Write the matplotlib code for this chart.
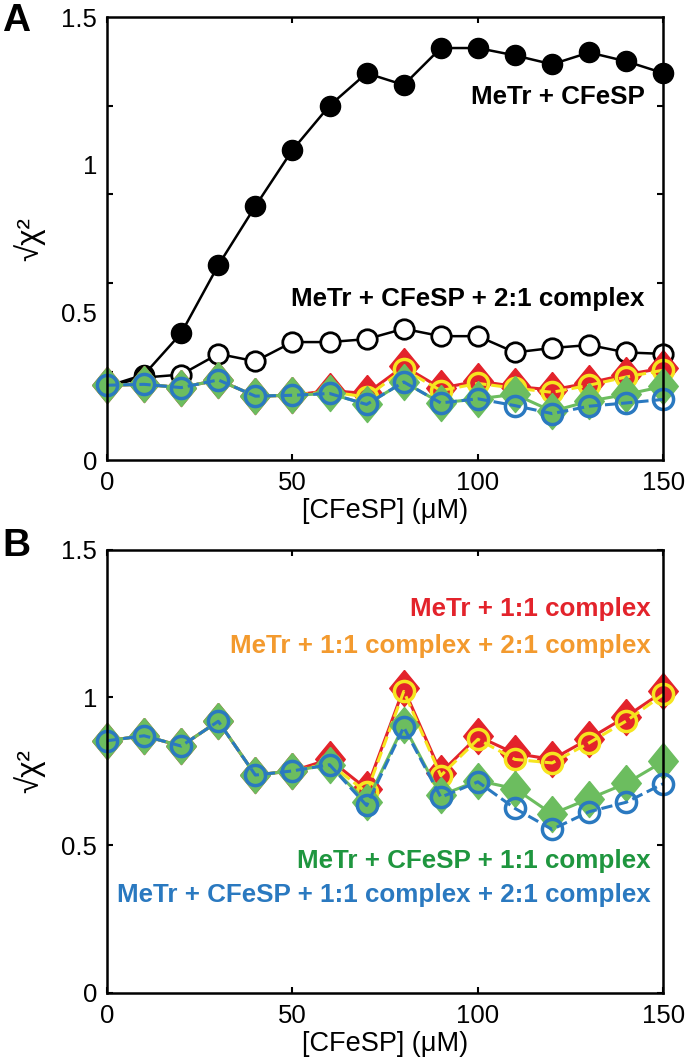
"""Goodness of fit (sqrt chi^2) vs CFeSP concentration for several binding models."""

import matplotlib
matplotlib.use("Agg")
import matplotlib.pyplot as plt

plt.rcParams["font.family"] = ["Liberation Sans", "DejaVu Sans"]

# Titration points (uM)
cfesp = [0, 10, 20, 30, 40, 50, 60, 70, 80, 90, 100, 110, 120, 130, 140, 150]

# Panel A
a_metr_cfesp = [0.25, 0.29, 0.43, 0.66, 0.86, 1.05, 1.20, 1.31, 1.27, 1.395, 1.395, 1.37, 1.34, 1.38, 1.35, 1.31]
a_metr_cfesp_21 = [0.25, 0.28, 0.29, 0.36, 0.335, 0.40, 0.40, 0.41, 0.445, 0.42, 0.42, 0.365, 0.38, 0.39, 0.365, 0.36]
a_metr_11 = [0.254, 0.257, 0.246, 0.272, 0.217, 0.22, 0.236, 0.226, 0.318, 0.244, 0.268, 0.25, 0.238, 0.262, 0.29, 0.312]
a_metr_11_21 = [0.254, 0.257, 0.246, 0.272, 0.217, 0.22, 0.232, 0.214, 0.308, 0.236, 0.26, 0.244, 0.23, 0.254, 0.282, 0.305]
a_metr_cfesp_11 = [0.254, 0.257, 0.246, 0.272, 0.217, 0.22, 0.226, 0.189, 0.265, 0.194, 0.208, 0.223, 0.166, 0.2, 0.223, 0.25]
a_metr_cfesp_11_21 = [0.254, 0.257, 0.246, 0.272, 0.217, 0.22, 0.226, 0.189, 0.265, 0.194, 0.208, 0.185, 0.158, 0.183, 0.194, 0.206]

# Panel B
b_metr_11 = [0.853, 0.87, 0.835, 0.919, 0.737, 0.751, 0.79, 0.69, 1.03, 0.745, 0.868, 0.81, 0.79, 0.86, 0.935, 1.02]
b_metr_11_21 = [0.853, 0.87, 0.835, 0.919, 0.737, 0.751, 0.776, 0.678, 1.02, 0.735, 0.858, 0.79, 0.778, 0.846, 0.92, 1.01]
b_metr_cfesp_11 = [0.853, 0.87, 0.835, 0.919, 0.737, 0.751, 0.772, 0.645, 0.905, 0.668, 0.718, 0.691, 0.605, 0.657, 0.709, 0.783]
b_metr_cfesp_11_21 = [0.853, 0.87, 0.835, 0.919, 0.737, 0.751, 0.772, 0.634, 0.899, 0.662, 0.714, 0.624, 0.553, 0.613, 0.645, 0.708]

RED = "#e3232b"
YELLOW = "#f6e51f"
ORANGE = "#f39a2e"
GREEN = "#6cbd5f"
GREEN_TXT = "#1f963f"
BLUE = "#2a79c0"

TICK_FS = 18.5
LABEL_FS = 18.7

# slightly tall diamond, like the MATLAB 'd' marker
DIAMOND = [(0, 1), (0.82, 0), (0, -1), (-0.82, 0), (0, 1)]


def draw_colored(ax, m11, m11_21, mc11, mc11_21):
    """Four model curves: diamonds solid, open circles dashed."""
    kw = dict(clip_on=False, lw=2.2)
    ax.plot(cfesp, m11, "-", color=RED, marker=DIAMOND, ms=26, mfc=RED, mec=RED, **kw)
    ax.plot(cfesp, m11_21, "--", color=YELLOW, marker="o", ms=14.5, mfc="none", mec=YELLOW, mew=2.5, **kw)
    ax.plot(cfesp, mc11, "-", color=GREEN, marker=DIAMOND, ms=26, mfc=GREEN, mec=GREEN, **kw)
    ax.plot(cfesp, mc11_21, "--", color=BLUE, marker="o", ms=14.5, mfc="none", mec=BLUE, mew=2.5, **kw)


def style_axes(ax):
    ax.set_xlim(0, 150)
    ax.set_ylim(0, 1.5)
    ax.set_xticks([0, 50, 100, 150])
    ax.set_xticklabels(["0", "50", "100", "150"], fontsize=TICK_FS)
    ax.set_xlabel("[CFeSP] (μM)", fontsize=TICK_FS + 1, labelpad=2)
    ax.set_ylabel("√χ²", fontsize=TICK_FS + 4, labelpad=12)
    ax.tick_params(direction="in", length=4, width=1.5, top=True, right=True)
    ax.tick_params(axis="x", pad=8)
    ax.tick_params(axis="y", pad=7)
    for sp in ax.spines.values():
        sp.set_linewidth(1.8)


fig = plt.figure(figsize=(6.86, 10.63), dpi=100)
ax_a = fig.add_axes([0.156, 0.567, 0.811, 0.417])
ax_b = fig.add_axes([0.156, 0.066, 0.811, 0.417])

# Panel A
ax_a.plot(cfesp, a_metr_cfesp, "-", color="black", lw=1.8, marker="o", ms=14.5,
          mfc="black", mec="black", clip_on=False)
ax_a.plot(cfesp, a_metr_cfesp_21, "-", color="black", lw=1.8, marker="o", ms=14,
          mfc="white", mec="black", mew=2, clip_on=False)
draw_colored(ax_a, a_metr_11, a_metr_11_21, a_metr_cfesp_11, a_metr_cfesp_11_21)
style_axes(ax_a)
# tick marks and labels sit at different values in panel A
ax_a.set_yticks([0.3, 0.6, 0.9, 1.2])
ax_a.set_yticklabels([])
ax_a.set_yticks([0, 0.5, 1, 1.5], minor=True)
ax_a.set_yticklabels(["0", "0.5", "1", "1.5"], minor=True, fontsize=TICK_FS)
ax_a.tick_params(axis="y", which="minor", length=0, pad=7)
ax_a.tick_params(axis="x", which="minor", length=0)

ax_a.text(145, 1.23, "MeTr + CFeSP", ha="right", va="center", fontsize=LABEL_FS, fontweight="bold")
ax_a.text(145, 0.546, "MeTr + CFeSP + 2:1 complex", ha="right", va="center", fontsize=LABEL_FS, fontweight="bold")

# Panel B
draw_colored(ax_b, b_metr_11, b_metr_11_21, b_metr_cfesp_11, b_metr_cfesp_11_21)
style_axes(ax_b)
ax_b.set_yticks([0, 0.5, 1, 1.5])
ax_b.set_yticklabels(["0", "0.5", "1", "1.5"], fontsize=TICK_FS)

ax_b.text(146.5, 1.30, "MeTr + 1:1 complex", ha="right", va="center", color=RED, fontsize=LABEL_FS, fontweight="bold")
ax_b.text(146.5, 1.175, "MeTr + 1:1 complex + 2:1 complex", ha="right", va="center", color=ORANGE, fontsize=LABEL_FS, fontweight="bold")
ax_b.text(146.5, 0.447, "MeTr + CFeSP + 1:1 complex", ha="right", va="center", color=GREEN_TXT, fontsize=LABEL_FS, fontweight="bold")
ax_b.text(146.5, 0.332, "MeTr + CFeSP + 1:1 complex + 2:1 complex", ha="right", va="center", color=BLUE, fontsize=LABEL_FS, fontweight="bold")

# Panel letters
fig.text(0.003, 0.997, "A", fontsize=28, fontweight="bold", ha="left", va="top")
fig.text(0.003, 0.503, "B", fontsize=28, fontweight="bold", ha="left", va="top")

fig.savefig("out.png", dpi=100)
